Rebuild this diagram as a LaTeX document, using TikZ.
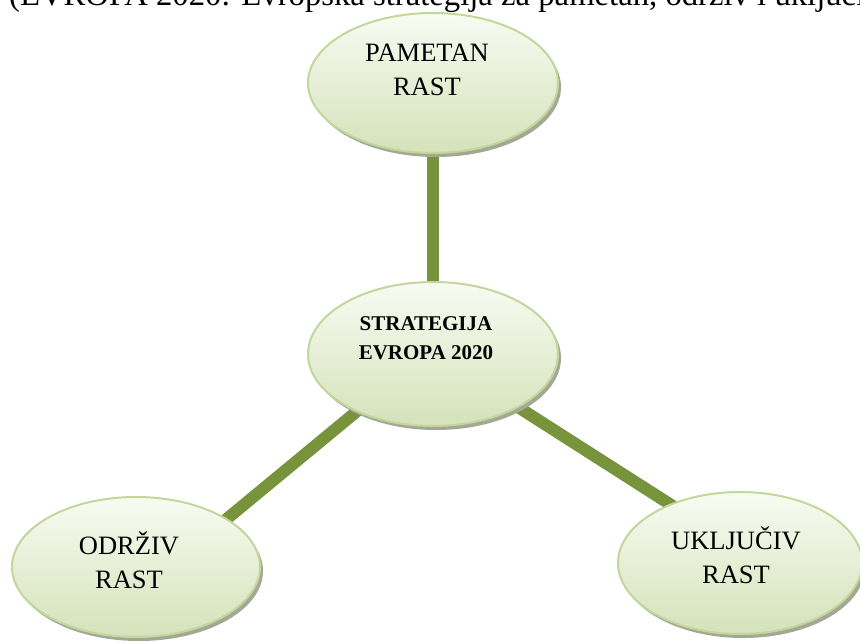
\documentclass[tikz,border=0pt]{standalone}
\usepackage{fontspec}
\setmainfont{Liberation Serif}
\usetikzlibrary{shapes.geometric,shadows}
\definecolor{bordergreen}{HTML}{C3D69B}
\definecolor{linkgreen}{HTML}{77933C}
\definecolor{topfill}{HTML}{F8FBF2}
\definecolor{botfill}{HTML}{D5E2BA}
\definecolor{shadowgray}{HTML}{A3A894}
\pgfdeclarelayer{bg}
\pgfsetlayers{bg,main}
\begin{document}
\begin{tikzpicture}[x=1pt,y=-1pt,
  oval/.style={ellipse, draw=bordergreen, line width=2pt, top color=topfill, bottom color=botfill, inner sep=0pt,
    drop shadow={shadow xshift=3pt, shadow yshift=-4pt, fill=shadowgray, opacity=1}},
  lbl/.style={align=center, inner sep=0pt, font=\fontsize{26.5}{34}\selectfont},
  boldlbl/.style={align=center, inner sep=0pt, font=\bfseries\fontsize{21}{29}\selectfont},
  link/.style={draw=linkgreen, line width=12pt, shorten <=-6pt, shorten >=-6pt}]
\useasboundingbox (0,0) rectangle (860,642);
\clip (0,0) rectangle (860,642);

\node[anchor=base west, inner sep=0pt, font=\fontsize{32.7}{38}\selectfont] (cap) at (9,6)
  {(EVROPA 2020: Evropska strategija za pametan, održiv i uključiv rast)};

\node[oval, minimum width=250pt, minimum height=140pt] (T) at (433,83) {};
\node[oval, minimum width=250pt, minimum height=144pt] (C) at (433,354) {};
\node[oval, minimum width=248pt, minimum height=140pt] (L) at (136,567) {};
\node[oval, minimum width=244pt, minimum height=142pt] (R) at (740,563) {};

\node[lbl] (tT) at (427,70) {PAMETAN\\RAST};
\node[boldlbl] (tC) at (426,338) {STRATEGIJA\\EVROPA 2020};
\node[lbl] (tL) at (129,560) {ODRŽIV\\RAST};
\node[lbl] (tR) at (736,555) {UKLJUČIV\\RAST};

\begin{pgfonlayer}{bg}
\draw[link] (T.south) -- (C.north);
\draw[link] (C.217) -- (L.28);
\draw[link] (C.-32) -- (R.140);
\end{pgfonlayer}
\end{tikzpicture}
\end{document}
